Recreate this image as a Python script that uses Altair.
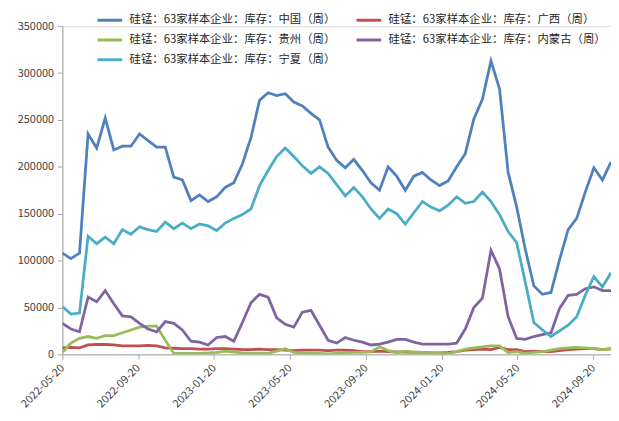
import altair as alt
import pandas as pd

# Series values (thousands of tonnes), biweekly points starting 2022-05-20
china = [108,102,108,235,220,252,218,222,222,235,
         228,221,221,189,186,164,170,163,168,178,
         183,203,231,271,279,276,278,269,265,257,
         250,221,207,199,208,196,183,175,200,190,
         175,190,194,186,180,185,200,214,251,272,
         313,283,194,157,112,73,64,66,101,133,
         145,173,199,186,205]
guangxi = [7,7.5,7,10,10.5,10.5,10,9,9,9,
           9.5,9,7,6.5,6,6,5.5,5.5,6,6,
           5.5,5,5,5.5,5,5,4.5,4,4.5,4.5,
           4.5,4,4.5,4.5,4,3,3,3.5,3,2.5,
           2.5,2,2,1.5,1.5,2,3,4.5,5,5.5,
           5,7.5,5,5,3,3.5,3,3,4,5,
           5.5,6,6,5,6]
guizhou = [2,12,17,19,17,20,20,23,26,29,
           30,30,15,1,1,1,1,1.5,2,3.5,
           2.5,1.5,1,1,1,3.5,6,2,1.5,1,
           1,0.5,1,1.5,2,2,2.5,8,4,2,
           3.5,2.5,2,1.5,1,0.7,3,5.5,7,8,
           9,9,2,3,1,2,3,4.5,6,7,
           7.5,7,6,5,5.5]
neimenggu = [33,27,24,61,56,68,54,41,40,33,
             27,24,35,33,26,14,13,10,18,19,
             14,34,55,64,61,39,32,29,45,47,
             31,15,12,18,15,13,10,11,13,16,
             16,13,11,11,11,11,12,27,50,60,
             111,91,40,17,16,19,21,23,49,63,
             64,70,72,68,68]
ningxia = [51,43,44,126,118,125,118,133,128,136,
           133,131,141,134,140,134,139,137,132,140,
           145,149,155,180,196,211,220,211,201,193,
           200,193,181,169,178,168,155,145,155,150,
           139,151,163,157,153,159,168,161,163,173,
           163,149,131,119,77,34,26,19,25,31,
           40,63,83,72,87]

name_cn = "硅锰：63家样本企业：库存：中国（周）"
name_gx = "硅锰：63家样本企业：库存：广西（周）"
name_gz = "硅锰：63家样本企业：库存：贵州（周）"
name_nm = "硅锰：63家样本企业：库存：内蒙古（周）"
name_nx = "硅锰：63家样本企业：库存：宁夏（周）"

# legend fills columns first: col 1 = 中国/贵州/宁夏, col 2 = 广西/内蒙古
legend_order = [name_cn, name_gz, name_nx, name_gx, name_nm]
legend_colors = ["#4F81BD", "#9BBB59", "#4BACC6", "#C0504D", "#8064A2"]
tick_labels = ["2022-05-20", "2022-09-20", "2023-01-20", "2023-05-20",
               "2023-09-20", "2024-01-20", "2024-05-20", "2024-09-20"]

rows = []
for name, vals in [(name_cn, china), (name_gx, guangxi), (name_gz, guizhou),
                   (name_nm, neimenggu), (name_nx, ningxia)]:
    for i, v in enumerate(vals):
        rows.append({"idx": i, "value": v * 1000, "series": name})
df = pd.DataFrame(rows)

step = 8.85
tick_pos = [j * step for j in range(len(tick_labels))]
label_arr = "[" + ",".join("'" + t + "'" for t in tick_labels) + "]"

FONT = "Noto Sans CJK SC"
GRAY = "#a6a6a6"

chart = alt.Chart(df).mark_line(strokeWidth=2.8, clip=True).encode(
    x=alt.X("idx:Q",
            scale=alt.Scale(domain=[0, 64], nice=False, zero=False),
            axis=alt.Axis(values=tick_pos, labelExpr=label_arr + "[round(datum.value/" + str(step) + ")]",
                          title=None, grid=False, labelAngle=-45, labelAlign="right",
                          labelBaseline="middle", labelPadding=7, tickSize=5,
                          domainColor=GRAY, tickColor=GRAY, labelColor="#404040",
                          labelFont=FONT, labelFontSize=11)),
    y=alt.Y("value:Q",
            scale=alt.Scale(domain=[0, 350000], nice=False),
            axis=alt.Axis(values=list(range(0, 350001, 50000)), format="d", title=None,
                          grid=False, tickSize=5, labelPadding=4,
                          domainColor=GRAY, tickColor=GRAY, labelColor="#404040",
                          labelFont=FONT, labelFontSize=11)),
    color=alt.Color("series:N",
                    scale=alt.Scale(domain=legend_order, range=legend_colors),
                    legend=alt.Legend(title=None, orient="none", legendX=34, legendY=-20,
                                      columns=2, columnPadding=14, rowPadding=-4,
                                      symbolType="stroke", symbolSize=625,
                                      symbolStrokeWidth=3, labelOffset=6,
                                      labelFont=FONT, labelFontSize=11.5,
                                      labelColor="#262626", labelLimit=400, padding=0)),
).properties(
    width=555, height=332,
    autosize=alt.AutoSizeParams(type="none"),
    padding={"left": 55, "top": 16, "right": 0, "bottom": 60},
).configure_view(stroke=None).configure(background="white")

chart.save("out.html", embed_options={"renderer": "svg", "actions": False})
